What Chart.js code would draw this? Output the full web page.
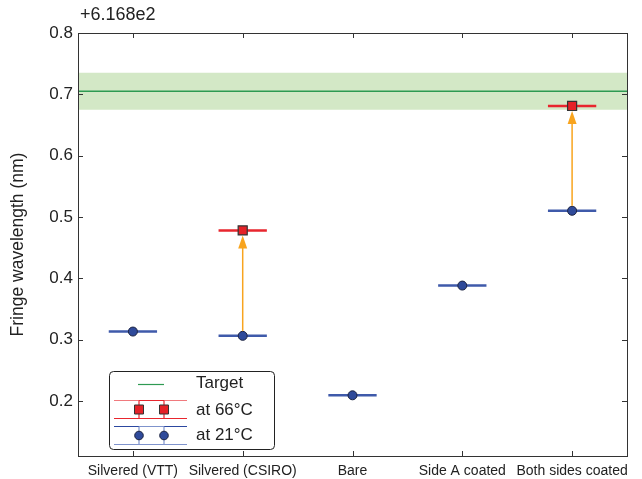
<!DOCTYPE html>
<html>
<head>
<meta charset="utf-8">
<script src="https://cdn.jsdelivr.net/npm/chart.js@4.4.1/dist/chart.umd.min.js"></script>
<style>
  html, body { margin: 0; padding: 0; background: #fff; }
  #wrap { width: 642px; height: 479px; }
</style>
</head>
<body>
<div id="wrap"><canvas id="c" width="642" height="479"></canvas></div>
<script>
// datos
const categories = ['Silvered (VTT)', 'Silvered (CSIRO)', 'Bare', 'Side A coated', 'Both sides coated'];
const at21 = [0.313, 0.306, 0.209, 0.388, 0.510];
const at66 = [null, 0.478, null, null, 0.681];
const target = 0.705;
const targetBand = [0.675, 0.735];
const yTicks = [0.2, 0.3, 0.4, 0.5, 0.6, 0.7, 0.8];
const xHalf = 0.22; // media anchura de las barras horizontales

const FONT = "'Liberation Sans', Arial, sans-serif";
const BLUE_LINE = '#3f5aaa';
const RED_LINE = '#e8262e';
const ORANGE = '#f8a41e';

// segmentos horizontales centrados en cada punto
function hBars(values) {
  const out = [];
  values.forEach((v, i) => {
    if (v === null) return;
    out.push({ x: i + 1 - xHalf, y: v }, { x: i + 1 + xHalf, y: v }, { x: i + 1 + xHalf, y: null });
  });
  return out;
}
function pts(values) {
  return values.map((v, i) => ({ x: i + 1, y: v })).filter(p => p.y !== null);
}

// caja, ticks hacia dentro, flechas y leyenda
const extras = {
  id: 'extras',
  afterDatasetsDraw(chart) {
    const { ctx, scales: { x, y } } = chart;
    // flechas de 21 a 66
    ctx.save();
    ctx.strokeStyle = ORANGE;
    ctx.fillStyle = ORANGE;
    ctx.lineWidth = 1.5;
    at66.forEach((v, i) => {
      if (v === null) return;
      const px = x.getPixelForValue(i + 1);
      const y0 = y.getPixelForValue(at21[i]) - 5;
      const y1 = y.getPixelForValue(v) + 5;
      ctx.beginPath();
      ctx.moveTo(px, y0);
      ctx.lineTo(px, y1 + 10);
      ctx.stroke();
      ctx.beginPath();
      ctx.moveTo(px, y1);
      ctx.lineTo(px - 4.5, y1 + 13);
      ctx.lineTo(px + 4.5, y1 + 13);
      ctx.closePath();
      ctx.fill();
    });
    ctx.restore();
  },
  afterDraw(chart) {
    const { ctx, chartArea: a, scales: { x, y } } = chart;
    ctx.save();
    ctx.strokeStyle = '#333';
    ctx.lineWidth = 1;
    ctx.strokeRect(Math.round(a.left) + 0.5, Math.round(a.top) + 0.5, Math.round(a.right - a.left), Math.round(a.bottom - a.top));
    ctx.beginPath();
    yTicks.forEach(t => {
      const py = Math.round(y.getPixelForValue(t)) + 0.5;
      ctx.moveTo(a.left, py); ctx.lineTo(a.left + 5, py);
      ctx.moveTo(a.right, py); ctx.lineTo(a.right - 5, py);
    });
    categories.forEach((c, i) => {
      const px = Math.round(x.getPixelForValue(i + 1)) + 0.5;
      ctx.moveTo(px, a.bottom); ctx.lineTo(px, a.bottom - 5);
      ctx.moveTo(px, a.top); ctx.lineTo(px, a.top + 5);
    });
    ctx.stroke();

    // exponente del eje
    ctx.fillStyle = '#222';
    ctx.font = '18px ' + FONT;
    ctx.textBaseline = 'middle';
    ctx.textAlign = 'left';
    ctx.fillText('+6.168e2', 80, 15);

    // leyenda
    const L = 109, T = 371, W = 165, H = 78;
    ctx.fillStyle = '#fff';
    ctx.beginPath();
    ctx.roundRect(L + 0.5, T + 0.5, W, H, 4);
    ctx.fill();
    ctx.strokeStyle = '#222';
    ctx.stroke();

    ctx.lineWidth = 1.2;
    ctx.strokeStyle = '#2e9a52';
    ctx.beginPath(); ctx.moveTo(138, 384.5); ctx.lineTo(164, 384.5); ctx.stroke();

    function glyph(top, bot, mid, light, dark, fill, edge, square) {
      ctx.lineWidth = 1.2;
      ctx.strokeStyle = light;
      ctx.beginPath(); ctx.moveTo(114, top); ctx.lineTo(187, top); ctx.stroke();
      ctx.strokeStyle = dark;
      ctx.beginPath();
      ctx.moveTo(114, bot); ctx.lineTo(187, bot);
      ctx.moveTo(139, top); ctx.lineTo(139, bot);
      ctx.moveTo(164, top); ctx.lineTo(164, bot);
      ctx.moveTo(139, top); ctx.lineTo(164, top);
      ctx.stroke();
      ctx.fillStyle = fill;
      ctx.strokeStyle = edge;
      ctx.lineWidth = 1;
      [139, 164].forEach(cx => {
        ctx.beginPath();
        if (square) ctx.rect(cx - 4.5, mid - 4.5, 9, 9);
        else ctx.arc(cx, mid, 4.3, 0, Math.PI * 2);
        ctx.fill(); ctx.stroke();
      });
    }
    glyph(400.5, 418.5, 409.5, '#f07a7e', RED_LINE, '#e52228', '#333', true);
    glyph(426.5, 444.5, 435.5, '#2c48a0', '#7f93cc', '#2f4a9a', '#1c2340', false);

    ctx.fillStyle = '#222';
    ctx.font = '17px ' + FONT;
    ctx.fillText('Target', 196, 383);
    ctx.fillText('at 66°C', 196, 410);
    ctx.fillText('at 21°C', 196, 435);
    ctx.restore();
  }
};

// Chart.js pinta el dataset 0 encima: la banda va al final
const data = {
  datasets: [
    { label: 'at 66°C', data: pts(at66), showLine: false, pointStyle: 'rect', pointRadius: 6.4, backgroundColor: '#e52228', borderColor: '#333', borderWidth: 1.2 },
    { label: 'at 21°C', data: pts(at21), showLine: false, pointStyle: 'circle', pointRadius: 4.5, backgroundColor: '#2f4a9a', borderColor: '#1c2340', borderWidth: 1 },
    { label: 'bars66', data: hBars(at66), borderColor: RED_LINE, borderWidth: 2.5, pointRadius: 0, spanGaps: false },
    { label: 'bars21', data: hBars(at21), borderColor: BLUE_LINE, borderWidth: 2.5, pointRadius: 0, spanGaps: false },
    { label: 'Target', data: [{ x: 0.5, y: target }, { x: 5.5, y: target }], borderColor: '#2e9a52', borderWidth: 1.3, pointRadius: 0 },
    { label: 'bandHigh', data: [{ x: 0.5, y: targetBand[1] }, { x: 5.5, y: targetBand[1] }], borderWidth: 0, pointRadius: 0, fill: '+1', backgroundColor: '#d3e8c6' },
    { label: 'bandLow', data: [{ x: 0.5, y: targetBand[0] }, { x: 5.5, y: targetBand[0] }], borderWidth: 0, pointRadius: 0, fill: false }
  ]
};

new Chart(document.getElementById('c'), {
  type: 'line',
  data,
  plugins: [extras],
  options: {
    responsive: false,
    animation: false,
    layout: { padding: { top: 33, right: 15, left: 0, bottom: 0 } },
    plugins: { legend: { display: false }, tooltip: { enabled: false } },
    elements: { line: { tension: 0 } },
    scales: {
      x: {
        type: 'linear', min: 0.5, max: 5.5,
        afterBuildTicks: s => { s.ticks = categories.map((c, i) => ({ value: i + 1 })); },
        afterFit: s => { s.height = 23; },
        grid: { display: false, drawTicks: false, tickLength: 0 }, border: { display: false },
        ticks: {
          autoSkip: false, maxRotation: 0, padding: 7, color: '#222',
          font: { family: FONT, size: 14 },
          callback: v => categories[v - 1]
        }
      },
      y: {
        min: 0.11, max: 0.8,
        afterBuildTicks: s => { s.ticks = yTicks.map(v => ({ value: v })); },
        afterFit: s => { s.width = 78; },
        grid: { display: false, drawTicks: false, tickLength: 0 }, border: { display: false },
        ticks: { padding: 5, color: '#222', font: { family: FONT, size: 17 }, callback: v => v.toFixed(1) },
        title: { display: true, text: 'Fringe wavelength (nm)', color: '#222', font: { family: FONT, size: 17.5 }, padding: { top: 8, bottom: 0 } }
      }
    }
  }
});
</script>
</body>
</html>
